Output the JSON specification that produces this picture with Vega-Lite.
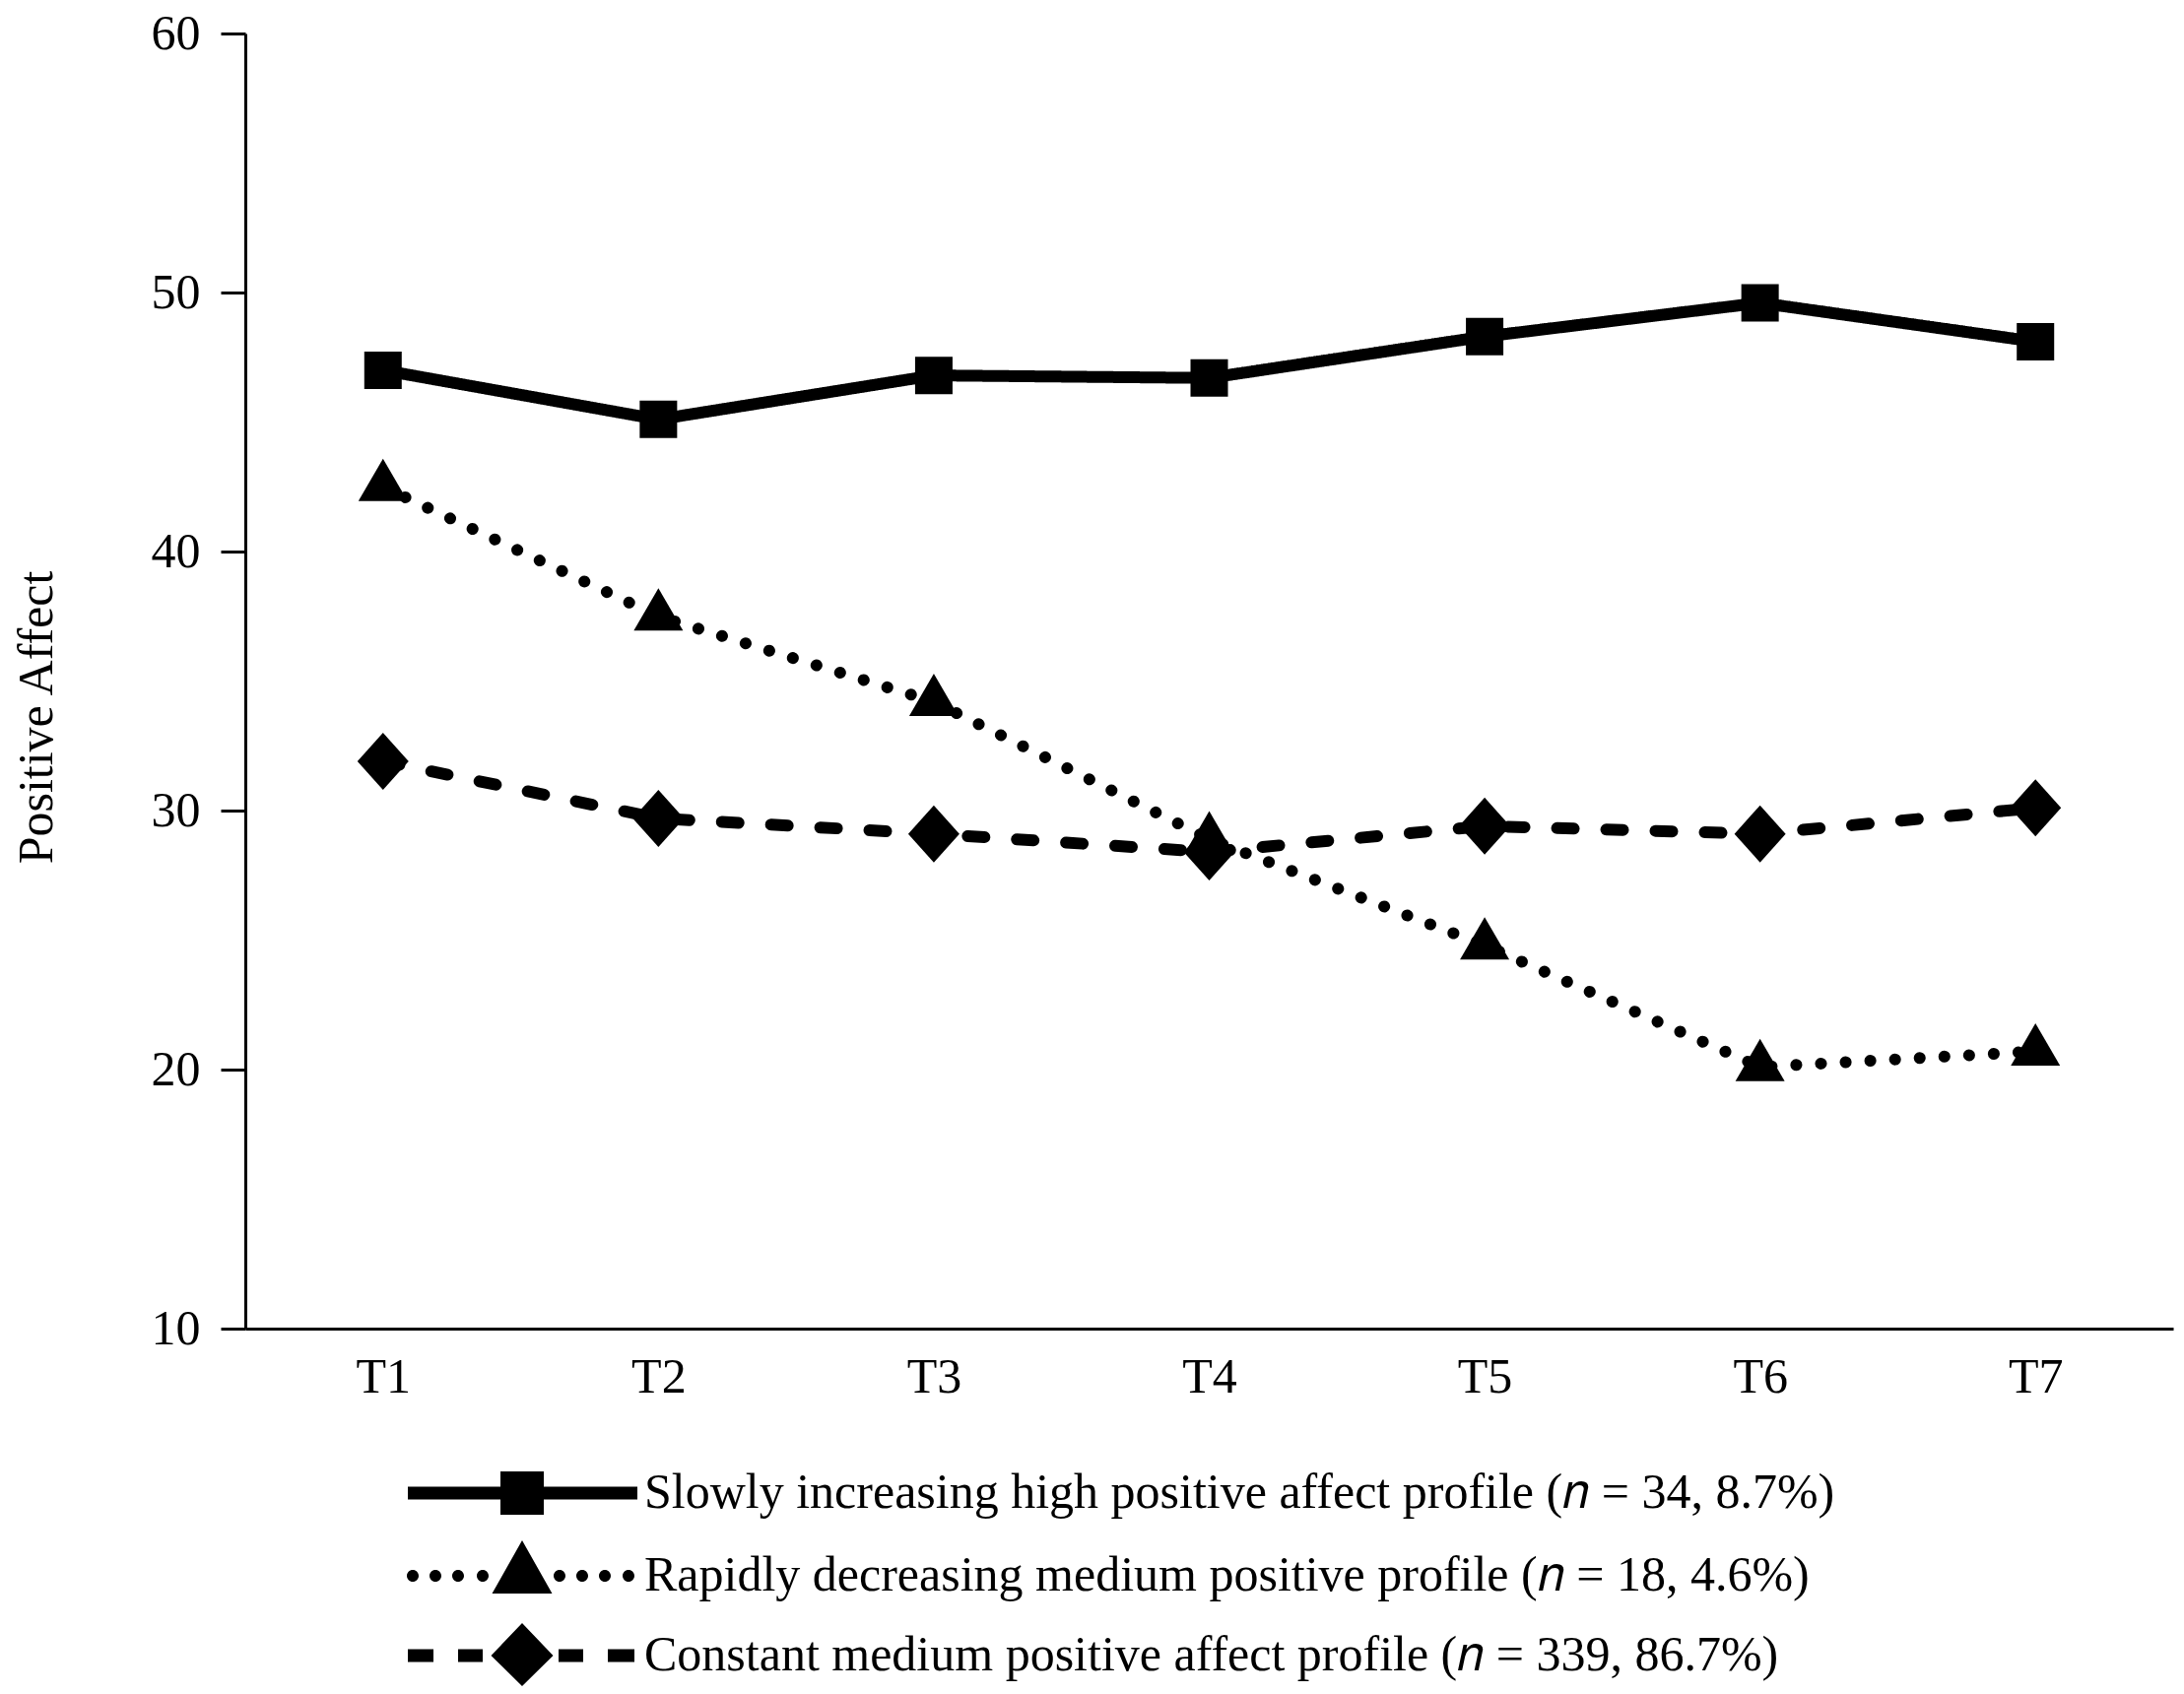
{
  "$schema": "https://vega.github.io/schema/vega-lite/v6.json",
  "autosize": "none",
  "width": 1957,
  "height": 1315,
  "padding": {"left": 249, "top": 34, "right": 11, "bottom": 371},
  "background": "white",
  "config": {
    "font": "Liberation Serif",
    "view": {"stroke": null},
    "axis": {
      "domainColor": "black",
      "domainWidth": 3,
      "tickColor": "black",
      "tickWidth": 3,
      "labelColor": "black",
      "labelFont": "Liberation Serif",
      "labelFontSize": 50,
      "titleFont": "Liberation Serif",
      "titleFontSize": 50,
      "titleFontWeight": "normal",
      "titleColor": "black",
      "grid": false
    }
  },
  "data": {
    "values": [
      {"time": "T1", "profile": "Slowly increasing high positive affect profile (𝑛 = 34, 8.7%)", "value": 47.0},
      {"time": "T2", "profile": "Slowly increasing high positive affect profile (𝑛 = 34, 8.7%)", "value": 45.1},
      {"time": "T3", "profile": "Slowly increasing high positive affect profile (𝑛 = 34, 8.7%)", "value": 46.8},
      {"time": "T4", "profile": "Slowly increasing high positive affect profile (𝑛 = 34, 8.7%)", "value": 46.7},
      {"time": "T5", "profile": "Slowly increasing high positive affect profile (𝑛 = 34, 8.7%)", "value": 48.3},
      {"time": "T6", "profile": "Slowly increasing high positive affect profile (𝑛 = 34, 8.7%)", "value": 49.6},
      {"time": "T7", "profile": "Slowly increasing high positive affect profile (𝑛 = 34, 8.7%)", "value": 48.1},
      {"time": "T1", "profile": "Rapidly decreasing medium positive profile (𝑛 = 18, 4.6%)", "value": 42.5},
      {"time": "T2", "profile": "Rapidly decreasing medium positive profile (𝑛 = 18, 4.6%)", "value": 37.5},
      {"time": "T3", "profile": "Rapidly decreasing medium positive profile (𝑛 = 18, 4.6%)", "value": 34.2},
      {"time": "T4", "profile": "Rapidly decreasing medium positive profile (𝑛 = 18, 4.6%)", "value": 28.9},
      {"time": "T5", "profile": "Rapidly decreasing medium positive profile (𝑛 = 18, 4.6%)", "value": 24.8},
      {"time": "T6", "profile": "Rapidly decreasing medium positive profile (𝑛 = 18, 4.6%)", "value": 20.1},
      {"time": "T7", "profile": "Rapidly decreasing medium positive profile (𝑛 = 18, 4.6%)", "value": 20.7},
      {"time": "T1", "profile": "Constant medium positive affect profile (𝑛 = 339, 86.7%)", "value": 31.9},
      {"time": "T2", "profile": "Constant medium positive affect profile (𝑛 = 339, 86.7%)", "value": 29.7},
      {"time": "T3", "profile": "Constant medium positive affect profile (𝑛 = 339, 86.7%)", "value": 29.1},
      {"time": "T4", "profile": "Constant medium positive affect profile (𝑛 = 339, 86.7%)", "value": 28.4},
      {"time": "T5", "profile": "Constant medium positive affect profile (𝑛 = 339, 86.7%)", "value": 29.4},
      {"time": "T6", "profile": "Constant medium positive affect profile (𝑛 = 339, 86.7%)", "value": 29.1},
      {"time": "T7", "profile": "Constant medium positive affect profile (𝑛 = 339, 86.7%)", "value": 30.1}
    ]
  },
  "encoding": {
    "x": {
      "field": "time",
      "type": "ordinal",
      "scale": {"type": "point", "padding": 0.5},
      "axis": {"title": null, "ticks": false, "labelPadding": 24, "labelAngle": 0}
    },
    "y": {
      "field": "value",
      "type": "quantitative",
      "scale": {"domain": [10, 60], "nice": false, "zero": false},
      "axis": {
        "title": "Positive Affect",
        "values": [10, 20, 30, 40, 50, 60],
        "tickSize": 25,
        "labelPadding": 21,
        "titleX": -197,
        "titleY": 694,
        "titleAngle": -90,
        "titleAlign": "center",
        "titleBaseline": "alphabetic"
      }
    }
  },
  "layer": [
    {
      "mark": {"type": "line", "color": "black", "strokeWidth": 12, "strokeCap": "round"},
      "encoding": {
        "strokeDash": {
          "field": "profile",
          "type": "nominal",
          "legend": null,
          "scale": {"range": [[17, 33], [0.1, 25], [1, 0]]}
        }
      }
    },
    {
      "mark": {"type": "point", "filled": true, "color": "black", "opacity": 1, "size": 400},
      "encoding": {
        "shape": {
          "field": "profile",
          "type": "nominal",
          "legend": null,
          "scale": {
            "range": [
              "M0,-2.9L2.6,0L0,2.9L-2.6,0Z",
              "M0,-2.85L2.5,1.45L-2.5,1.45Z",
              "M-1.9,-1.9H1.9V1.9H-1.9Z"
            ]
          }
        }
      }
    },
    {
      "mark": {"type": "point", "filled": true, "color": "black", "opacity": 0, "size": 400},
      "encoding": {
        "shape": {
          "field": "profile",
          "type": "nominal",
          "scale": {
            "domain": [
              "Slowly increasing high positive affect profile (𝑛 = 34, 8.7%)",
              "Rapidly decreasing medium positive profile (𝑛 = 18, 4.6%)",
              "Constant medium positive affect profile (𝑛 = 339, 86.7%)"
            ],
            "range": [
              "M-11.6,-0.65H11.7V0.65H-11.6Z M-2.2,-2.2H2.2V2.2H-2.2Z",
              "M0,-3.6L3.05,1.8L-3.05,1.8Z M-11.7,0a0.6,0.6 0 1,0 1.2,0a0.6,0.6 0 1,0 -1.2,0Z M-9.4,0a0.6,0.6 0 1,0 1.2,0a0.6,0.6 0 1,0 -1.2,0Z M-7.1,0a0.6,0.6 0 1,0 1.2,0a0.6,0.6 0 1,0 -1.2,0Z M-4.6,0a0.6,0.6 0 1,0 1.2,0a0.6,0.6 0 1,0 -1.2,0Z M3.2,0a0.6,0.6 0 1,0 1.2,0a0.6,0.6 0 1,0 -1.2,0Z M5.5,0a0.6,0.6 0 1,0 1.2,0a0.6,0.6 0 1,0 -1.2,0Z M7.8,0a0.6,0.6 0 1,0 1.2,0a0.6,0.6 0 1,0 -1.2,0Z M10.2,0a0.6,0.6 0 1,0 1.2,0a0.6,0.6 0 1,0 -1.2,0Z",
              "M0,-3.3L3.15,0L0,3.1L-3.15,0Z M-11.6,-0.65H-9V0.65H-11.6Z M-6.5,-0.65H-4V0.65H-6.5Z M3.7,-0.65H6.2V0.65H3.7Z M8.7,-0.65H11.4V0.65H8.7Z"
            ]
          },
          "legend": {
            "title": null,
            "orient": "none",
            "legendX": 256,
            "legendY": 1457,
            "direction": "vertical",
            "symbolSize": 400,
            "symbolFillColor": "black",
            "symbolStrokeWidth": 0,
            "symbolOpacity": 1,
            "labelFont": "Liberation Serif",
            "labelFontSize": 50,
            "labelColor": "black",
            "labelLimit": 0,
            "labelOffset": 99,
            "rowPadding": 23
          }
        }
      }
    }
  ],
  "resolve": {"scale": {"shape": "independent"}}
}
